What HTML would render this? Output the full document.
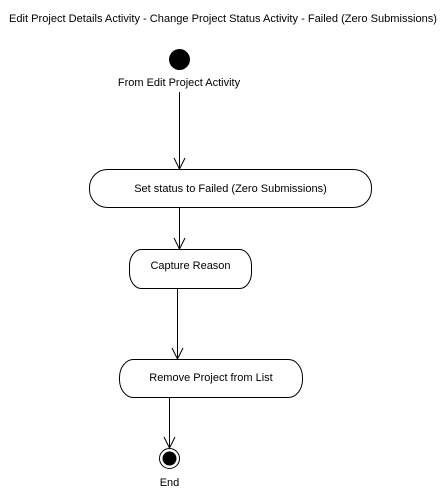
<!DOCTYPE html>
<html><head><meta charset="utf-8"><style>
html,body{margin:0;padding:0;background:#fff;}
svg{display:block;}
text{font-family:"Liberation Sans",Arial,sans-serif;font-size:11px;fill:#000;}
</style></head><body>
<svg width="447" height="499" viewBox="0 0 447 499" xmlns="http://www.w3.org/2000/svg">
<text x="223" y="22" text-anchor="middle" textLength="428" lengthAdjust="spacingAndGlyphs">Edit Project Details Activity - Change Project Status Activity - Failed (Zero Submissions)</text>
<circle cx="179.5" cy="59.5" r="10.5" fill="#000"/>
<text x="179" y="86" text-anchor="middle">From Edit Project Activity</text>
<g stroke="#000" stroke-width="1" fill="none">
<line x1="179.5" y1="92" x2="179.5" y2="169"/>
<polyline points="174,158 179.5,169 185,158"/>
<rect x="89.5" y="169.5" width="282" height="38" rx="18" ry="18"/>
<line x1="179.5" y1="208" x2="179.5" y2="249"/>
<polyline points="174,238 179.5,249 185,238"/>
<rect x="129.5" y="249.5" width="122" height="39" rx="12" ry="16"/>
<line x1="177.5" y1="289" x2="177.5" y2="359"/>
<polyline points="172,348 177.5,359 183,348"/>
<rect x="119.5" y="359.5" width="183" height="38" rx="14" ry="18"/>
<line x1="169.5" y1="398" x2="169.5" y2="448"/>
<polyline points="164,437 169.5,448 175,437"/>
<circle cx="169.5" cy="458.5" r="10"/>
</g>
<circle cx="169.5" cy="458.5" r="7" fill="#000"/>
<text x="230.5" y="192" text-anchor="middle">Set status to Failed (Zero Submissions)</text>
<text x="190.5" y="269" text-anchor="middle">Capture Reason</text>
<text x="211" y="381" text-anchor="middle">Remove Project from List</text>
<text x="169.5" y="486" text-anchor="middle">End</text>
</svg>
</body></html>
